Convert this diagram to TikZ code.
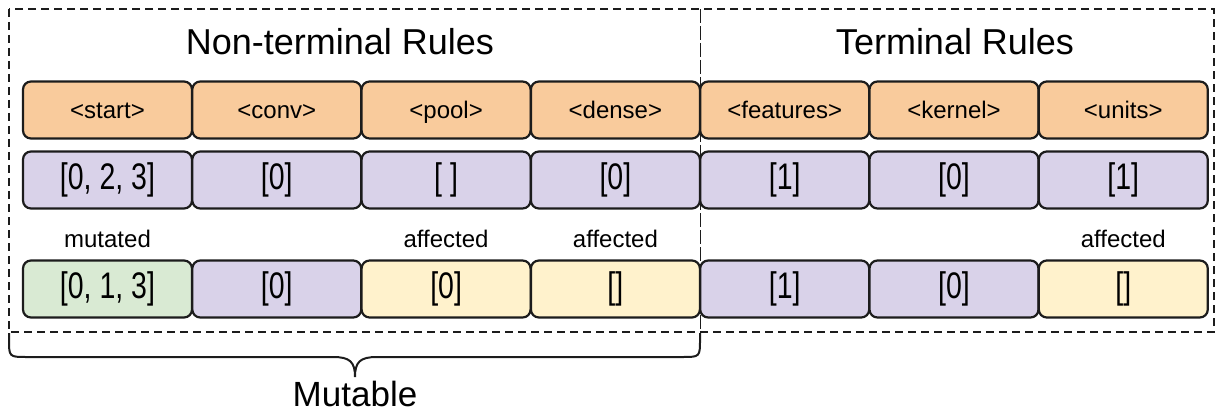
\documentclass[tikz,border=0pt]{standalone}
\usepackage{fontspec}
\setmainfont{Liberation Sans}
\newfontfamily\narrowfont[FakeStretch=0.77]{Liberation Sans}
\definecolor{boxline}{HTML}{1C1C1C}
\definecolor{ruleorange}{HTML}{F9CB9C}
\definecolor{genepurple}{HTML}{D9D2E9}
\definecolor{mutgreen}{HTML}{D9EAD3}
\definecolor{affyellow}{HTML}{FFF2CC}

\begin{document}
\begin{tikzpicture}[x=1pt, y=1pt, node distance={169.3pt},
  box/.style = {draw=boxline, line width=2.2pt, rounded corners=8pt, minimum width=169pt, minimum height=57pt, inner sep=0pt},
  rule/.style = {box, fill=ruleorange, text height=18pt, text depth=0pt, font=\fontsize{24}{27}\selectfont},
  gene/.style = {box, fill=genepurple, font=\narrowfont\fontsize{37}{40}\selectfont},
  mutbox/.style = {gene, fill=mutgreen},
  affbox/.style = {gene, fill=affyellow},
  tag/.style = {font=\fontsize{24}{27}\selectfont},
  title/.style = {font=\fontsize{36}{40}\selectfont},
  frame/.style = {draw=boxline, line width=1.8pt, dash pattern=on 8pt off 5pt},
  divider/.style = {draw=boxline, line width=1pt, dash pattern=on 14pt off 3pt}]
\useasboundingbox (0,0) rectangle (1217,-414);
\draw[frame] (9,-9) rectangle (1214,-332);
\draw[divider] (700,-9) -- (700,-332);
\node[title] (nt) at (340,-42) {Non-terminal Rules};
\node[title] (tr) at (955,-42) {Terminal Rules};
\node[rule] (r1) at (107.5,-110) {<start>};
\node[rule] (r2) [right of=r1] {<conv>};
\node[rule] (r3) [right of=r2] {<pool>};
\node[rule] (r4) [right of=r3] {<dense>};
\node[rule] (r5) [right of=r4] {<features>};
\node[rule] (r6) [right of=r5] {<kernel>};
\node[rule] (r7) [right of=r6] {<units>};
\node[gene] (g1) [below of=r1, node distance=70pt] {[0, 2, 3]};
\node[gene] (g2) [right of=g1] {[0]};
\node[gene] (g3) [right of=g2] {[ ]};
\node[gene] (g4) [right of=g3] {[0]};
\node[gene] (g5) [right of=g4] {[1]};
\node[gene] (g6) [right of=g5] {[0]};
\node[gene] (g7) [right of=g6] {[1]};
\node[mutbox] (m1) [below of=g1, node distance=109pt] {[0, 1, 3]};
\node[gene] (m2) [right of=m1] {[0]};
\node[affbox] (m3) [right of=m2] {[0]};
\node[affbox] (m4) [right of=m3] {[]};
\node[gene] (m5) [right of=m4] {[1]};
\node[gene] (m6) [right of=m5] {[0]};
\node[affbox] (m7) [right of=m6] {[]};
\node[tag] (t1) [above of=m1, node distance=50pt] {mutated};
\node[tag] (t3) [above of=m3, node distance=50pt] {affected};
\node[tag] (t4) [above of=m4, node distance=50pt] {affected};
\node[tag] (t7) [above of=m7, node distance=50pt] {affected};
\coordinate (bl) at (9,-333);
\coordinate (br) at (700,-333);
\coordinate (tip) at (355,-377);
\draw[boxline, line width=2pt] (bl) -- (9,-339) .. controls (9,-357) .. (27,-357) -- (333,-357) .. controls (350,-357) and (355,-362) .. (tip) .. controls (355,-362) and (360,-357) .. (377,-357) -- (682,-357) .. controls (700,-357) .. (700,-339) -- (br);
\node[font=\fontsize{35}{38}\selectfont] (mut) at (355,-394) {Mutable};
\end{tikzpicture}
\end{document}
